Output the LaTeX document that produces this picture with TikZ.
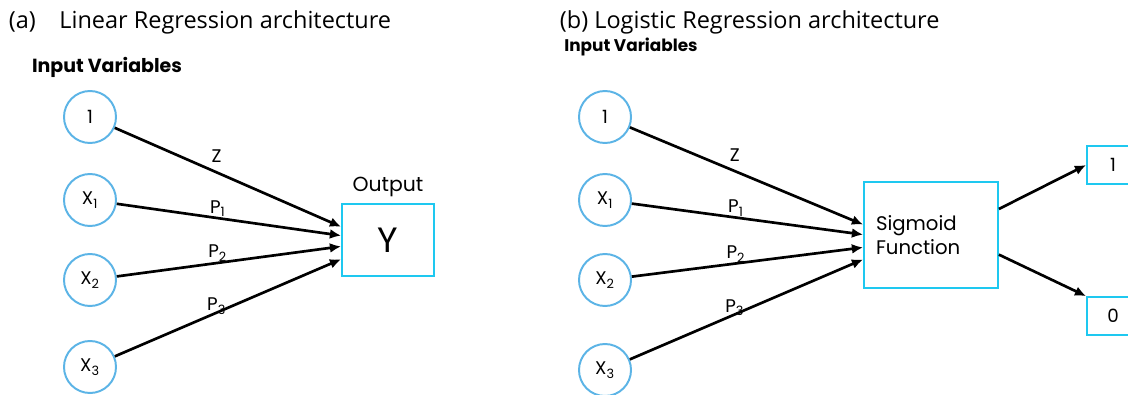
\documentclass[tikz,border=0pt]{standalone}
\usepackage{fontspec}
\setmainfont{Open Sans}
\newfontfamily\diagfont{Poppins}
\usetikzlibrary{arrows.meta}

\definecolor{circblue}{HTML}{5CB4E6}
\definecolor{boxcyan}{HTML}{1EC8F0}

\tikzset{
    invar/.style={circle, draw=circblue, line width=1.4pt, minimum size=1.3cm, inner sep=0pt, font=\diagfont\fontsize{13}{15}\selectfont},
    outbox/.style={rectangle, draw=boxcyan, line width=1.2pt, inner sep=0pt},
    weight/.style={-{Latex[length=8pt,width=7pt]}, line width=1.9pt},
    wlabel/.style={font=\diagfont\fontsize{13}{15}\selectfont, inner sep=1pt},
    heading/.style={font=\diagfont\bfseries\fontsize{13.5}{16}\selectfont},
    title/.style={anchor=west, font=\fontsize{16.7}{20}\selectfont},
}

\begin{document}
\begin{tikzpicture}[x=0.025cm, y=-0.025cm]

    \useasboundingbox (0,0) rectangle (1128,394);

    % (a) linear regression
    \node[title] (ta) at (4,22) {(a)\quad Linear Regression architecture};
    \node[heading] (ha) at (107,67) {Input Variables};

    \foreach \n/\t/\y in {a0/1/117, a1/X\textsubscript{1}/200, a2/X\textsubscript{2}/280, a3/X\textsubscript{3}/367}
        \node[invar] (\n) at (90,\y) {\t};

    \node[outbox, minimum width=2.3cm, minimum height=1.8cm, font=\diagfont\fontsize{25}{28}\selectfont] (ya) at (388,240) {Y};
    \node[font=\diagfont\fontsize{14.5}{17}\selectfont, above=1pt] (oa) at (ya.north) {Output};

    \draw[weight] (a0) -- node[wlabel, pos=0.45, above=5pt] {Z} ([yshift=0.33cm]ya.west);
    \draw[weight] (a1) -- node[wlabel, pos=0.45, above=-1pt] {P\textsubscript{1}} ([yshift=0.11cm]ya.west);
    \draw[weight] (a2) -- node[wlabel, pos=0.45, above=-1pt] {P\textsubscript{2}} ([yshift=-0.16cm]ya.west);
    \draw[weight] (a3) -- node[wlabel, pos=0.45, above=-3pt] {P\textsubscript{3}} ([yshift=-0.48cm]ya.west);

    % (b) logistic regression
    \node[title] (tb) at (555,22) {(b) Logistic Regression architecture};
    \node[heading, font=\diagfont\bfseries\fontsize{12}{14}\selectfont] (hb) at (631,47) {Input Variables};

    \foreach \n/\t/\y in {b0/1/117, b1/X\textsubscript{1}/200, b2/X\textsubscript{2}/280, b3/X\textsubscript{3}/370}
        \node[invar] (\n) at (605,\y) {\t};

    \node[outbox, text width=2.75cm, inner xsep=0.3cm, minimum height=2.65cm, align=left, font=\diagfont\fontsize{14}{17}\selectfont] (sig) at (931,235) {Sigmoid\\Function};

    \draw[weight] (b0) -- node[wlabel, pos=0.45, above=5pt] {Z} ([yshift=0.26cm]sig.west);
    \draw[weight] (b1) -- node[wlabel, pos=0.45, above=-1pt] {P\textsubscript{1}} ([yshift=0.01cm]sig.west);
    \draw[weight] (b2) -- node[wlabel, pos=0.45, above=-1pt] {P\textsubscript{2}} ([yshift=-0.31cm]sig.west);
    \draw[weight] (b3) -- node[wlabel, pos=0.45, above=-3pt] {P\textsubscript{3}} ([yshift=-0.61cm]sig.west);

    \node[outbox, minimum width=1.3cm, minimum height=0.95cm, font=\diagfont\fontsize{13}{15}\selectfont] (one) at (1113,165) {1};
    \node[outbox, minimum width=1.3cm, minimum height=0.95cm, font=\diagfont\fontsize{13}{15}\selectfont] (zero) at (1113,316) {0};

    \draw[weight] ([yshift=0.65cm]sig.east) -- (one.west);
    \draw[weight] ([yshift=-0.49cm]sig.east) -- (zero.north west);

\end{tikzpicture}
\end{document}
